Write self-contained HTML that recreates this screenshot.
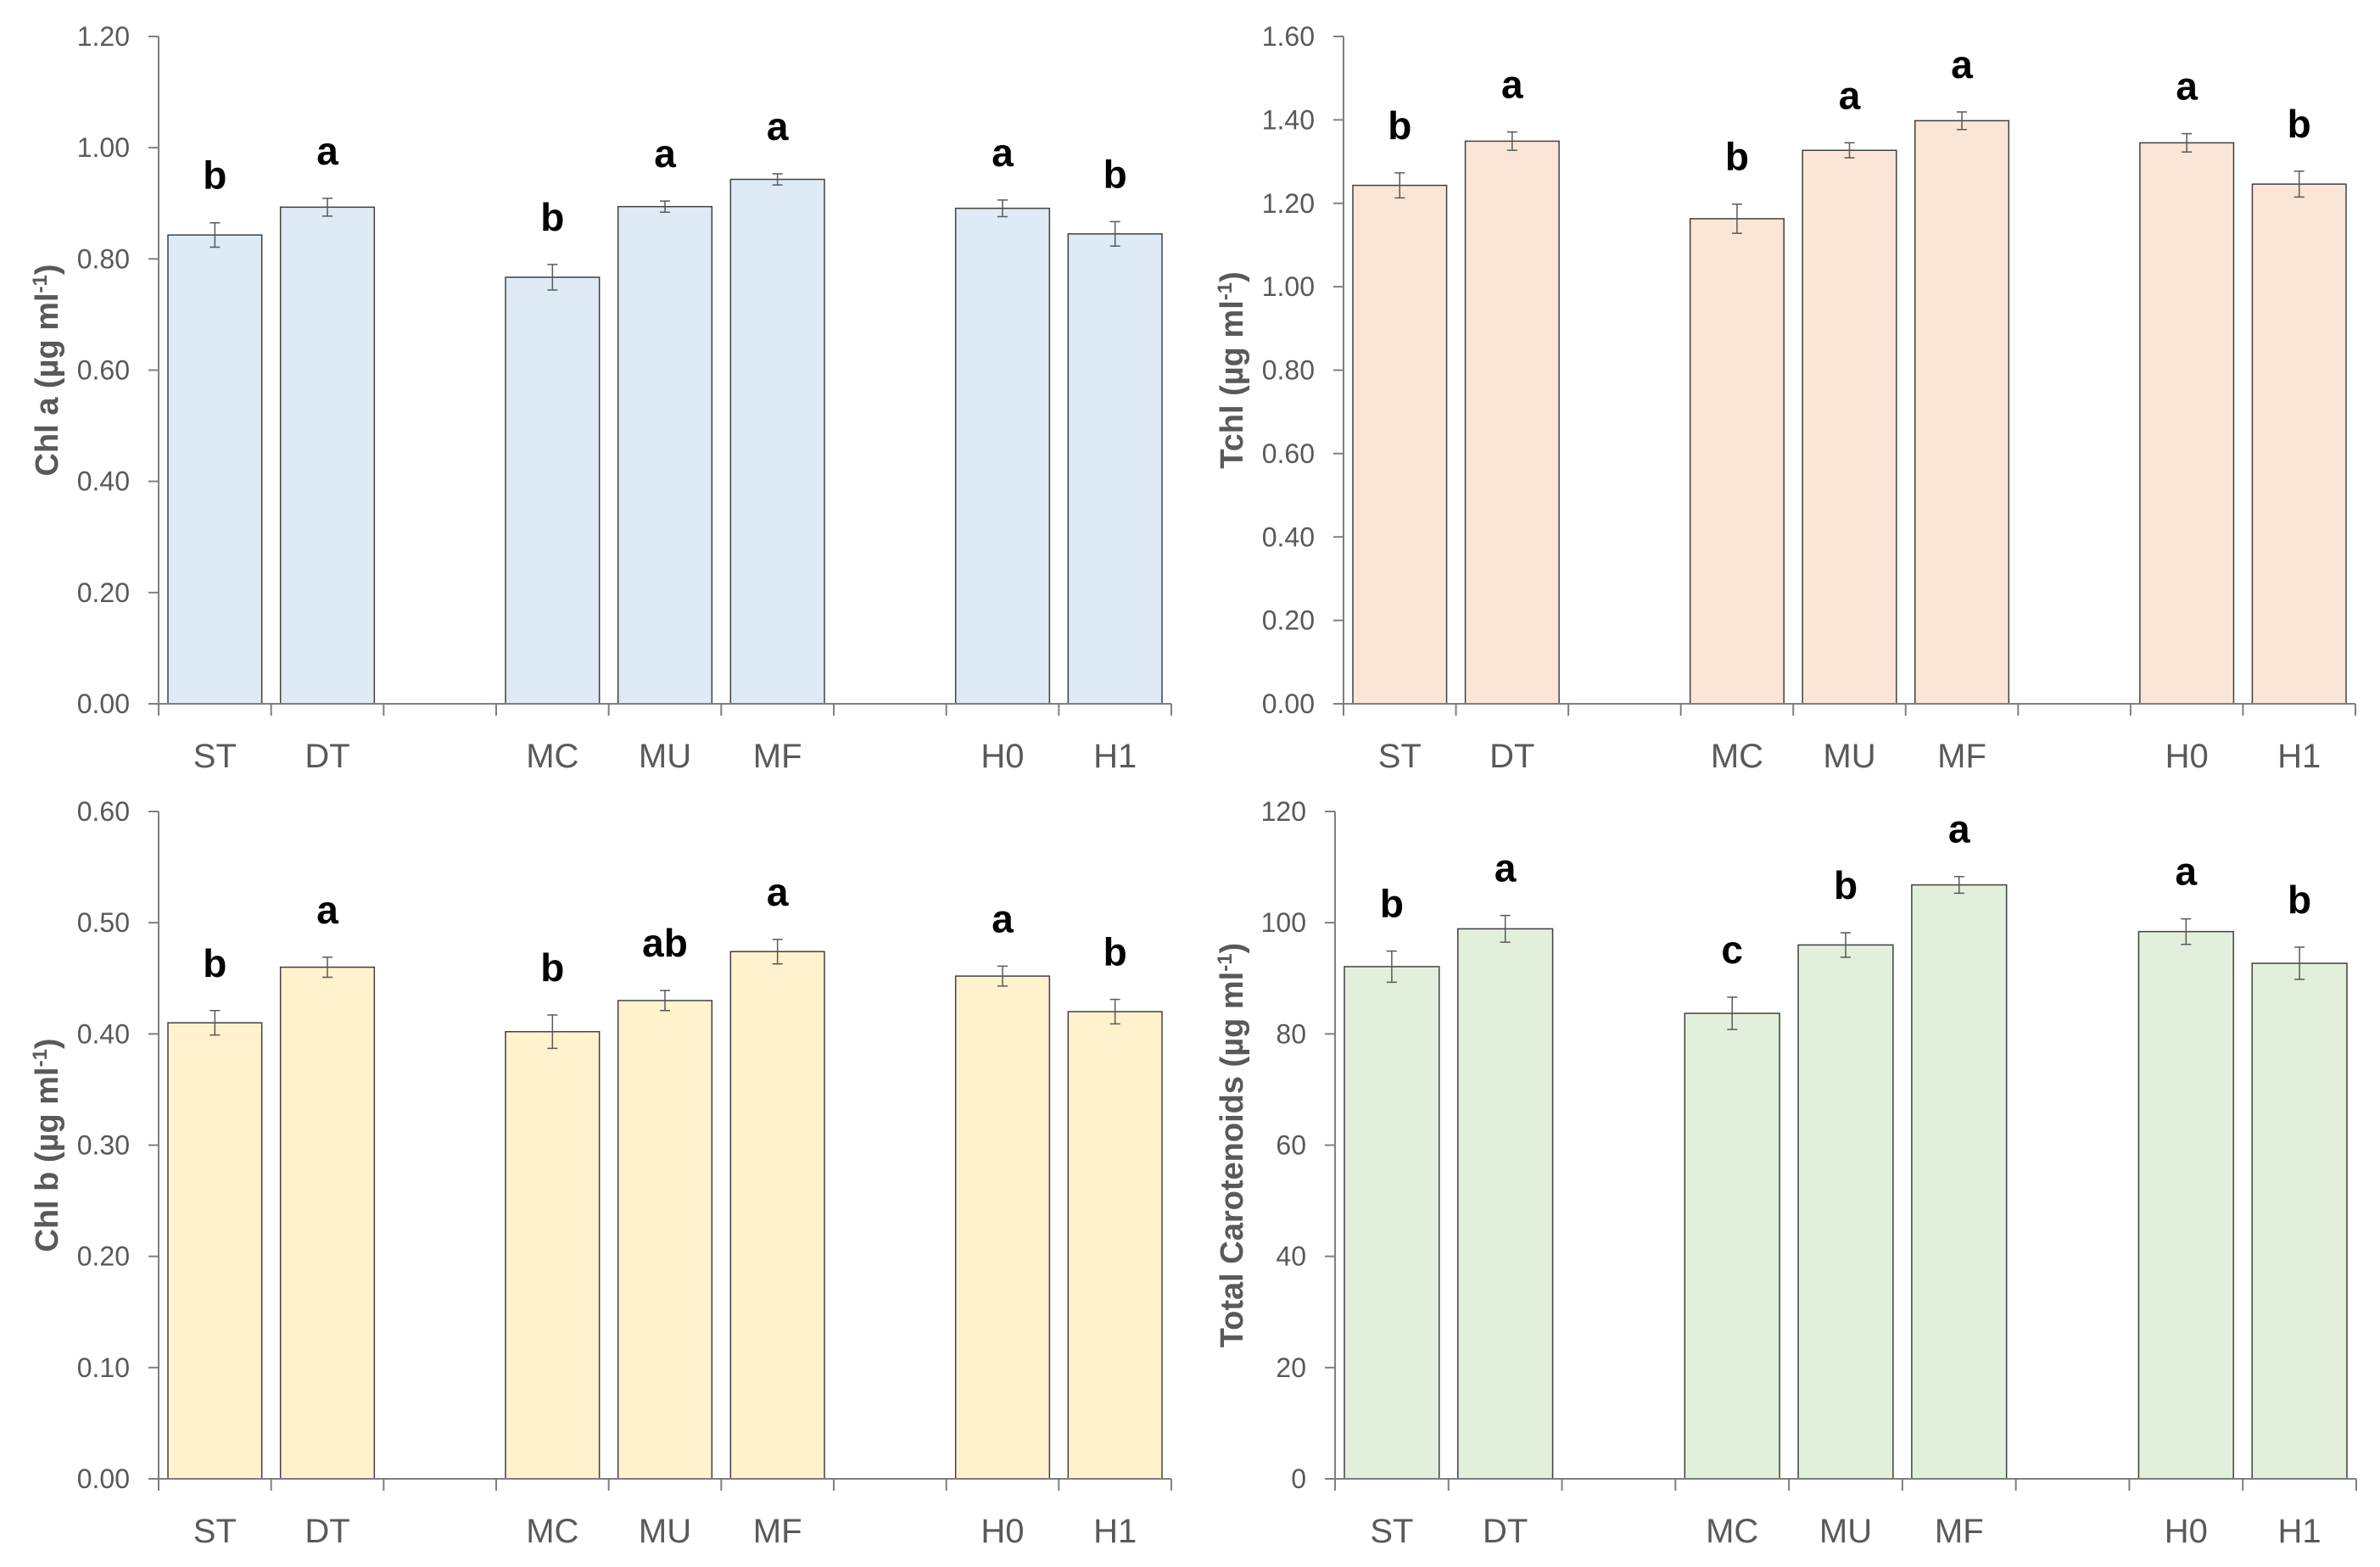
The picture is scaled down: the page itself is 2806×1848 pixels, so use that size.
<!DOCTYPE html>
<html><head><meta charset="utf-8"><style>
html,body{margin:0;padding:0;background:#fff;}
svg{display:block;font-family:"Liberation Sans Narrow","Liberation Sans",sans-serif;}
</style></head><body>
<svg id="chart" width="2806" height="1848" viewBox="0 0 2806 1848" xmlns="http://www.w3.org/2000/svg"></svg>
<script>
const categories = ["ST","DT","","MC","MU","MF","","H0","H1"];
const chlaValues = [0.843,0.893,null,0.767,0.894,0.943,null,0.891,0.845];
const chlaErrors = [0.022,0.016,null,0.023,0.010,0.010,null,0.015,0.022];
const chlaLetters = ["b","a","","b","a","a","","a","b"];
const chlaTicks = ["0.00","0.20","0.40","0.60","0.80","1.00","1.20"];
const tchlValues = [1.243,1.349,null,1.163,1.327,1.398,null,1.345,1.246];
const tchlErrors = [0.030,0.022,null,0.035,0.018,0.021,null,0.022,0.031];
const tchlLetters = ["b","a","","b","a","a","","a","b"];
const tchlTicks = ["0.00","0.20","0.40","0.60","0.80","1.00","1.20","1.40","1.60"];
const chlbValues = [0.410,0.460,null,0.402,0.430,0.474,null,0.452,0.420];
const chlbErrors = [0.011,0.009,null,0.015,0.009,0.011,null,0.009,0.011];
const chlbLetters = ["b","a","","b","ab","a","","a","b"];
const chlbTicks = ["0.00","0.10","0.20","0.30","0.40","0.50","0.60"];
const carValues = [92.1,98.9,null,83.7,96.0,106.8,null,98.4,92.7];
const carErrors = [2.8,2.4,null,2.9,2.2,1.5,null,2.3,2.9];
const carLetters = ["b","a","","c","b","a","","a","b"];
const carTicks = ["0","20","40","60","80","100","120"];

const NS="http://www.w3.org/2000/svg";
const svg=document.getElementById('chart');
function mk(tag,attrs,parent){const e=document.createElementNS(NS,tag);for(const k in attrs)e.setAttribute(k,attrs[k]);(parent||svg).appendChild(e);return e;}

function panel(key,box,ticks,values,errors,letters,fill,title,titleX){
  const g=mk('g',{});
  
  
  const max=parseFloat(ticks[ticks.length-1]);
  const y=v=>box.bottom-(v/max)*(box.bottom-box.top);
  const slot=(box.right-box.left)/categories.length;
  const x=i=>box.left+i*slot;
  ticks.forEach(t=>{
    const yy=y(parseFloat(t));
    const tl=mk('line',{x1:box.left-12,x2:box.left,y1:yy,y2:yy,stroke:'#7f7f7f','stroke-width':2},g);
    
    
    const tx=mk('text',{x:box.left-34,y:yy+11,'text-anchor':'end','font-size':32,fill:'#595959'},g);
    
    
    tx.textContent=t;
  });
  values.forEach((v,i)=>{
    if(v===null)return;
    const bx=x(i)+11,bw=slot-22;
    const r=mk('rect',{x:bx,y:y(v),width:bw,height:box.bottom-y(v),fill:fill,stroke:'#404040','stroke-width':1.5},g);
    
    
    const cx=bx+bw/2,e=errors[i];
    const eb=mk('path',{d:`M${cx},${y(v+e)}V${y(v-e)}M${cx-6},${y(v+e)}H${cx+6}M${cx-6},${y(v-e)}H${cx+6}`,stroke:'#595959','stroke-width':1.5,fill:'none'},g);
    
    
    const lt=mk('text',{x:cx,y:y(v+e)-40,'text-anchor':'middle','font-size':46,'font-weight':'bold',fill:'#000','font-family':'"Liberation Sans",sans-serif'},g);
    
    
    lt.textContent=letters[i];
  });
  const ya=mk('line',{x1:box.left,x2:box.left,y1:box.top,y2:box.bottom,stroke:'#7f7f7f','stroke-width':2},g);
  
  
  const xa=mk('line',{x1:box.left,x2:box.right,y1:box.bottom,y2:box.bottom,stroke:'#7f7f7f','stroke-width':2},g);
  
  
  for(let i=0;i<=categories.length;i++){
    const t=mk('line',{x1:x(i),x2:x(i),y1:box.bottom,y2:box.bottom+14,stroke:'#7f7f7f','stroke-width':2},g);
    
    
  }
  categories.forEach((c,i)=>{
    if(!c)return;
    const t=mk('text',{x:x(i)+slot/2,y:box.bottom+75,'text-anchor':'middle','font-size':40,fill:'#595959'},g);
    
    
    t.textContent=c;
  });
  const cy=(box.top+box.bottom)/2;
  const tt=mk('text',{x:titleX,y:cy,transform:`rotate(-90 ${titleX} ${cy})`,'text-anchor':'middle','font-size':38,'font-weight':'bold',fill:'#595959','font-family':'"Liberation Sans",sans-serif'},g);
  
  
  tt.innerHTML=title+' (µg ml<tspan dy="-13" font-size="24">-1</tspan><tspan dy="13">)</tspan>';
}
panel('chl-a',{left:187,right:1381,top:43,bottom:830},chlaTicks,chlaValues,chlaErrors,chlaLetters,'#deeaf6','Chl a',68);
panel('tchl',{left:1584,right:2777,top:43,bottom:830},tchlTicks,tchlValues,tchlErrors,tchlLetters,'#fbe5d6','Tchl',1465);
panel('chl-b',{left:187,right:1381,top:957,bottom:1744},chlbTicks,chlbValues,chlbErrors,chlbLetters,'#fff2cc','Chl b',68);
panel('carotenoids',{left:1574,right:2778,top:957,bottom:1744},carTicks,carValues,carErrors,carLetters,'#e2efda','Total Carotenoids',1465);
</script>
</body></html>
